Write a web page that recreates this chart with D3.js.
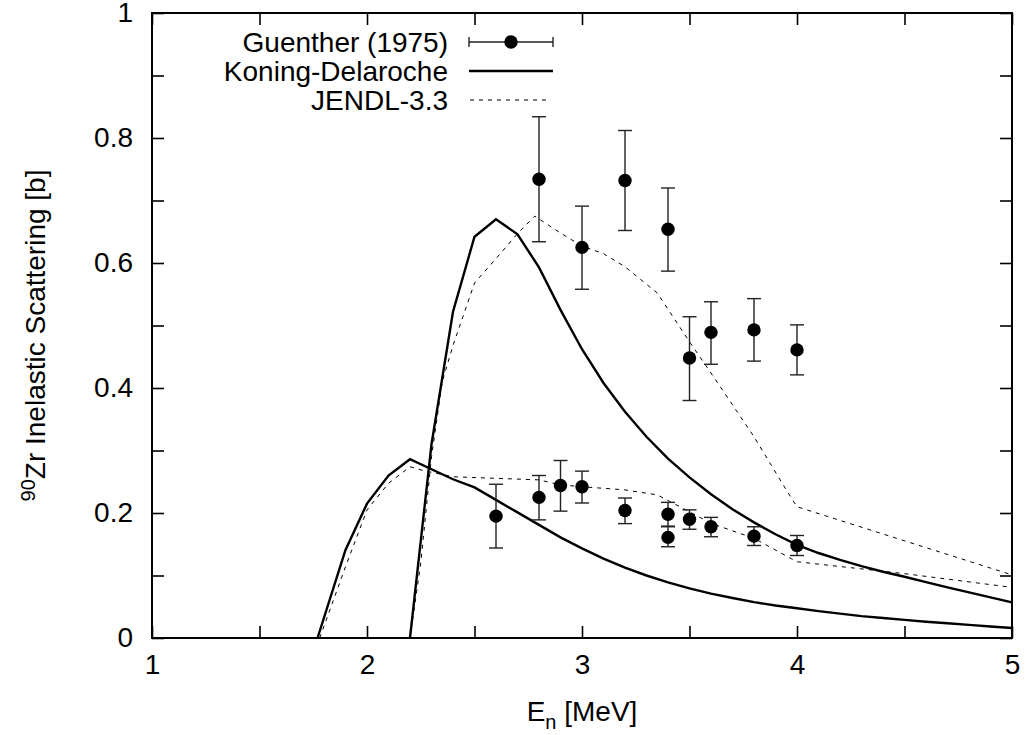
<!DOCTYPE html>
<html>
<head>
<meta charset="utf-8">
<style>
  body { margin: 0; background: #fff; }
  svg text { font-family: "Liberation Sans", Arial, sans-serif; fill: #000; }
</style>
</head>
<body>
<svg id="chart" width="1029" height="735"></svg>
<script src="https://cdn.jsdelivr.net/npm/d3@7"></script>
<script>
// Guenther (1975) measurements: energy, value, error low, error high
var guentherE    = [2.8, 3.0, 3.2, 3.4, 3.5, 3.6, 3.8, 4.0,
                    2.6, 2.8, 2.9, 3.0, 3.2, 3.4, 3.4, 3.5, 3.6, 3.8, 4.0];
var guentherVal  = [0.734, 0.625, 0.732, 0.654, 0.448, 0.489, 0.493, 0.461,
                    0.195, 0.225, 0.244, 0.242, 0.204, 0.198, 0.161, 0.190, 0.178, 0.163, 0.148];
var guentherLow  = [0.634, 0.558, 0.652, 0.587, 0.380, 0.438, 0.443, 0.421,
                    0.144, 0.189, 0.203, 0.216, 0.183, 0.179, 0.146, 0.174, 0.162, 0.148, 0.132];
var guentherHigh = [0.834, 0.691, 0.812, 0.720, 0.514, 0.538, 0.543, 0.501,
                    0.246, 0.260, 0.284, 0.267, 0.224, 0.217, 0.178, 0.205, 0.193, 0.178, 0.164];

// Koning-Delaroche, first level
var kdAE = [1.77, 1.9, 2.0, 2.1, 2.2, 2.3, 2.4, 2.5, 2.6, 2.7, 2.8, 2.9, 3.0, 3.1, 3.2, 3.3, 3.4, 3.5,
            3.6, 3.7, 3.8, 3.9, 4.0, 4.1, 4.2, 4.3, 4.4, 4.5, 4.6, 4.7, 4.8, 4.9, 5.0];
var kdAV = [0.0, 0.141, 0.215, 0.260, 0.286, 0.270, 0.254, 0.241, 0.221, 0.201, 0.181, 0.161, 0.1435, 0.127,
            0.1125, 0.100, 0.089, 0.0795, 0.071, 0.064, 0.0575, 0.052, 0.0475, 0.043, 0.039, 0.035, 0.032,
            0.029, 0.026, 0.0235, 0.021, 0.0185, 0.016];
// Koning-Delaroche, second level
var kdBE = [2.2, 2.3, 2.4, 2.5, 2.6, 2.7, 2.8, 2.9, 3.0, 3.1, 3.2, 3.3, 3.4, 3.5, 3.6, 3.7, 3.8, 3.9,
            4.0, 4.1, 4.2, 4.3, 4.4, 4.5, 4.6, 4.7, 4.8, 4.9, 5.0];
var kdBV = [0.0, 0.310, 0.522, 0.642, 0.670, 0.646, 0.593, 0.525, 0.462, 0.408, 0.362, 0.322, 0.287, 0.257,
            0.230, 0.206, 0.185, 0.166, 0.149, 0.136, 0.125, 0.115, 0.106, 0.098, 0.0895, 0.081, 0.073,
            0.065, 0.057];

// JENDL-3.3, first level
var jdAE = [1.78, 1.9, 2.0, 2.1, 2.2, 2.26, 2.4, 2.6, 2.8, 2.9, 3.0, 3.2, 3.35, 3.5, 3.6, 3.8, 4.0, 4.5, 5.0];
var jdAV = [0.0, 0.114, 0.205, 0.2475, 0.274, 0.268, 0.258, 0.2555, 0.253, 0.245, 0.242, 0.237, 0.229,
            0.202, 0.1835, 0.1595, 0.122, 0.103, 0.081];
// JENDL-3.3, second level
var jdBE = [2.2, 2.25, 2.3, 2.35, 2.4, 2.5, 2.6, 2.7, 2.78, 2.9, 3.0, 3.1, 3.2, 3.35, 3.5, 3.6, 3.8, 3.95, 4.0, 5.0];
var jdBV = [0.0, 0.12, 0.29, 0.41, 0.468, 0.568, 0.607, 0.647, 0.675, 0.648, 0.627, 0.615, 0.594, 0.552,
            0.474, 0.424, 0.322, 0.237, 0.210, 0.101];

var xTicks = [1, 1.5, 2, 2.5, 3, 3.5, 4, 4.5, 5];
var yTicks = [0, 0.1, 0.2, 0.3, 0.4, 0.5, 0.6, 0.7, 0.8, 0.9, 1];
var legendNames = ["Guenther (1975)", "Koning-Delaroche", "JENDL-3.3"];

var svg = d3.select('#chart');
var pLeft = 152, pRight = 1012, pTop = 13, pBottom = 638;

var x = d3.scaleLinear().domain([1, 5]).range([pLeft, pRight]);
var y = d3.scaleLinear().domain([0, 1]).range([pBottom, pTop]);

var fmtX = function (d) { return Number.isInteger(d) ? String(d) : ''; };
var fmtY = function (d) { return (Math.round(d * 10) % 2 === 0) ? String(+d.toFixed(1)) : ''; };

var styleAxis = function (g) {
    g.select('.domain').remove();
    g.selectAll('.tick line').attr('stroke', '#000').attr('stroke-width', 1.6);
    g.selectAll('.tick text').style('font-size', '28px').attr('fill', '#000');
};

svg.append('g').attr('transform', 'translate(0,' + pBottom + ')')
    .call(d3.axisBottom(x).tickValues(xTicks).tickSize(-12).tickPadding(16).tickFormat(fmtX))
    .call(styleAxis);
svg.append('g').attr('transform', 'translate(0,' + pTop + ')')
    .call(d3.axisTop(x).tickValues(xTicks).tickSize(-12).tickFormat(''))
    .call(styleAxis);
svg.append('g').attr('transform', 'translate(' + pLeft + ',0)')
    .call(d3.axisLeft(y).tickValues(yTicks).tickSize(-12).tickPadding(19).tickFormat(fmtY))
    .call(styleAxis);
svg.append('g').attr('transform', 'translate(' + pRight + ',0)')
    .call(d3.axisRight(y).tickValues(yTicks).tickSize(-12).tickFormat(''))
    .call(styleAxis);

svg.append('rect')
    .attr('x', pLeft).attr('y', pTop).attr('width', pRight - pLeft).attr('height', pBottom - pTop)
    .attr('fill', 'none').attr('stroke', '#000').attr('stroke-width', 2);

// curves
var line = d3.line().x(function (d) { return x(d[0]); }).y(function (d) { return y(d[1]); });
var zip = function (a, b) { return a.map(function (v, i) { return [v, b[i]]; }); };

[[jdAE, jdAV], [jdBE, jdBV]].forEach(function (s) {
    svg.append('path').datum(zip(s[0], s[1])).attr('d', line)
        .attr('fill', 'none').attr('stroke', '#000').attr('stroke-width', 1)
        .attr('stroke-dasharray', '4,5');
});
[[kdAE, kdAV], [kdBE, kdBV]].forEach(function (s) {
    svg.append('path').datum(zip(s[0], s[1])).attr('d', line)
        .attr('fill', 'none').attr('stroke', '#000').attr('stroke-width', 2.4)
        .attr('stroke-linejoin', 'miter');
});

// data points with error bars
var pts = guentherE.map(function (e, i) {
    return { e: e, v: guentherVal[i], lo: guentherLow[i], hi: guentherHigh[i] };
});
var pg = svg.append('g').attr('stroke', '#222').attr('stroke-width', 1.4);
pts.forEach(function (p) {
    var cx = x(p.e);
    pg.append('line').attr('x1', cx).attr('x2', cx).attr('y1', y(p.lo)).attr('y2', y(p.hi));
    pg.append('line').attr('x1', cx - 7).attr('x2', cx + 7).attr('y1', y(p.lo)).attr('y2', y(p.lo));
    pg.append('line').attr('x1', cx - 7).attr('x2', cx + 7).attr('y1', y(p.hi)).attr('y2', y(p.hi));
});
svg.append('g').selectAll('circle').data(pts).enter().append('circle')
    .attr('cx', function (d) { return x(d.e); })
    .attr('cy', function (d) { return y(d.v); })
    .attr('r', 6.7).attr('fill', '#000');

// legend
var lg = svg.append('g');
var rowY = [42, 71, 100];
legendNames.forEach(function (name, i) {
    lg.append('text').attr('x', 448).attr('y', rowY[i]).attr('dy', '0.35em')
        .attr('text-anchor', 'end').style('font-size', '28px').text(name);
});
lg.append('line').attr('x1', 469).attr('x2', 553).attr('y1', rowY[0]).attr('y2', rowY[0])
    .attr('stroke', '#222').attr('stroke-width', 1.4);
[469, 553].forEach(function (cx) {
    lg.append('line').attr('x1', cx).attr('x2', cx).attr('y1', rowY[0] - 5).attr('y2', rowY[0] + 5)
        .attr('stroke', '#222').attr('stroke-width', 1.4);
});
lg.append('circle').attr('cx', 511).attr('cy', rowY[0]).attr('r', 6.7).attr('fill', '#000');
lg.append('line').attr('x1', 469).attr('x2', 553).attr('y1', rowY[1]).attr('y2', rowY[1])
    .attr('stroke', '#000').attr('stroke-width', 2.4);
lg.append('line').attr('x1', 470).attr('x2', 548).attr('y1', rowY[2]).attr('y2', rowY[2])
    .attr('stroke', '#000').attr('stroke-width', 1).attr('stroke-dasharray', '4,5');

// axis titles
var xt = svg.append('text').attr('x', 582).attr('y', 721).attr('text-anchor', 'middle')
    .style('font-size', '28px');
xt.append('tspan').text('E');
xt.append('tspan').attr('dy', 8).style('font-size', '20px').text('n');
xt.append('tspan').attr('dy', -8).text(' [MeV]');

var yt = svg.append('text').attr('transform', 'translate(45,' + ((pTop + pBottom) / 2 + 10) + ') rotate(-90)')
    .attr('text-anchor', 'middle').style('font-size', '28px');
yt.append('tspan').attr('dy', -10).style('font-size', '20px').text('90');
yt.append('tspan').attr('dy', 10).text('Zr Inelastic Scattering [b]');
</script>
</body>
</html>
